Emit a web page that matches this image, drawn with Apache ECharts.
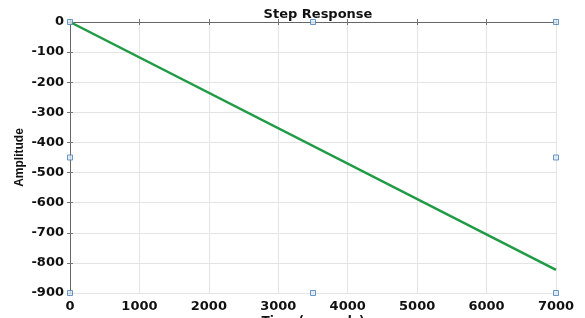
<!DOCTYPE html>
<html><head><meta charset="utf-8">
<script src="https://cdn.jsdelivr.net/npm/echarts@6/dist/echarts.min.js"></script>
<style>html,body{margin:0;padding:0;background:#fff}#c{width:585px;height:318px}</style>
</head><body><div id="c"></div>
<script>
const times = [0, 7000];
const amplitude = [0, -823];
const xTicks = [0, 1000, 2000, 3000, 4000, 5000, 6000, 7000];
const yTicks = [0, -100, -200, -300, -400, -500, -600, -700, -800, -900];
const handleX = [0, 3500, 7000, 0, 7000, 0, 3500, 7000];
const handleY = [0, 0, 0, -450, -450, -900, -900, -900];

const chart = echarts.init(document.getElementById('c'));
const font = 'DejaVu Sans, sans-serif';
const font2 = 'Liberation Sans, Arial, sans-serif';
const axisCommon = {
  type: 'value',
  axisLine: {show: true, lineStyle: {color: '#666', width: 1}},
  axisTick: {show: true, inside: true, length: 3, lineStyle: {color: '#777'}},
  splitLine: {show: false}
};
chart.setOption({
  animation: false,
  title: {text: 'Step Response', left: 313, top: 3, textAlign: 'center',
    textStyle: {fontFamily: font, fontWeight: 'bold', fontSize: 13, color: '#111'}},
  grid: {left: 70, right: 29, top: 22, bottom: 25, containLabel: false, outerBoundsMode: 'none'},
  xAxis: [
    Object.assign({}, axisCommon, {min: xTicks[0], max: xTicks[xTicks.length-1], interval: 1000, position: 'bottom',
      name: 'Time (seconds)', nameLocation: 'middle', nameGap: 23, nameMoveOverlap: false,
      nameTextStyle: {fontFamily: font, fontWeight: 'bold', fontSize: 12, color: '#111'},
      axisLabel: {fontFamily: font, fontWeight: 'bold', fontSize: 13, color: '#111', margin: 7, formatter: v => String(v)},
      splitLine: {show: true, lineStyle: {color: '#e4e4e4', width: 1}}}),
    Object.assign({}, axisCommon, {min: 0, max: 7000, interval: 1000, position: 'top', axisLabel: {show: false}})
  ],
  yAxis: [
    Object.assign({}, axisCommon, {min: yTicks[yTicks.length-1], max: yTicks[0], interval: 100, position: 'left',
      name: 'Amplitude', nameLocation: 'middle', nameGap: 44, nameRotate: 90, nameMoveOverlap: false,
      nameTextStyle: {fontFamily: font2, fontWeight: 'bold', fontSize: 12, color: '#111'},
      axisLabel: {fontFamily: font, fontWeight: 'bold', fontSize: 13, color: '#111', margin: 6, formatter: v => String(v)},
      splitLine: {show: true, lineStyle: {color: '#e4e4e4', width: 1}}}),
    Object.assign({}, axisCommon, {min: -900, max: 0, interval: 100, position: 'right', axisLabel: {show: false}})
  ],
  series: [
    {type: 'line', data: times.map((t, i) => [t, amplitude[i]]), showSymbol: false,
      lineStyle: {color: '#1f9a45', width: 2.5}, z: 3},
    {type: 'scatter', data: handleX.map((x, i) => [x, handleY[i]]), symbol: 'rect', symbolSize: 5,
      itemStyle: {color: '#dbe8f5', borderColor: '#4a7fb8', borderWidth: 1}, z: 4}
  ]
});
</script></body></html>
